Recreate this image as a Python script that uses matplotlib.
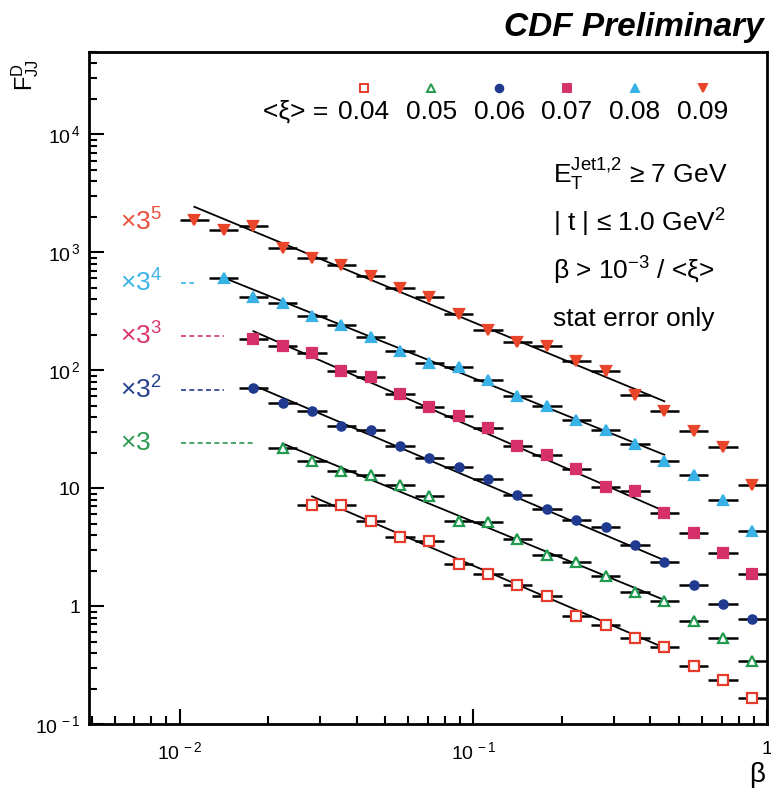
import matplotlib
matplotlib.use("Agg")
import matplotlib.pyplot as plt
import matplotlib.transforms as mtransforms
from matplotlib.ticker import FixedLocator, LogLocator, NullFormatter, FuncFormatter
import numpy as np

plt.rcParams['font.family'] = ['Liberation Sans', 'DejaVu Sans']
plt.rcParams['mathtext.fontset'] = 'custom'
plt.rcParams['mathtext.rm'] = 'Liberation Sans'
plt.rcParams['mathtext.it'] = 'Liberation Sans:italic'
plt.rcParams['mathtext.bf'] = 'Liberation Sans:bold'

# beta bin centres (bins 0.1 decade wide)
beta = [0.0112, 0.0141, 0.0178, 0.0224, 0.0282, 0.0355, 0.0447, 0.0562, 0.0708, 0.0891,
        0.112, 0.141, 0.178, 0.224, 0.282, 0.355, 0.447, 0.562, 0.708, 0.891]
half_bin = 0.05  # decades

xi = [0.04, 0.05, 0.06, 0.07, 0.08, 0.09]
scale_pow = [0, 1, 2, 3, 4, 5]

# F_JJ^D (unscaled), one list per <xi>, ending at the last beta bin
F_004 = [7.18, 7.18, 5.25, 3.84, 3.56, 2.27, 1.87, 1.51, 1.22, 0.82, 0.69, 0.535, 0.45,
         0.31, 0.236, 0.166]
F_005 = [7.27, 5.63, 4.63, 4.30, 3.53, 2.85, 1.75, 1.72, 1.23, 0.90, 0.787, 0.60, 0.437,
         0.367, 0.249, 0.178, 0.114]
F_006 = [7.82, 5.83, 4.99, 3.72, 3.44, 2.52, 1.99, 1.68, 1.32, 0.969, 0.738, 0.596, 0.519,
         0.366, 0.262, 0.168, 0.116, 0.086]
F_007 = [6.78, 5.93, 5.15, 3.63, 3.23, 2.32, 1.80, 1.51, 1.19, 0.841, 0.704, 0.537, 0.378,
         0.349, 0.227, 0.154, 0.104, 0.069]
F_008 = [7.43, 5.14, 4.57, 3.54, 2.98, 2.35, 1.79, 1.42, 1.31, 1.02, 0.743, 0.611, 0.465,
         0.383, 0.291, 0.209, 0.159, 0.098, 0.053]
F_009 = [7.68, 6.32, 6.83, 4.45, 3.66, 3.19, 2.58, 2.04, 1.71, 1.23, 0.897, 0.712, 0.658,
         0.490, 0.404, 0.253, 0.185, 0.125, 0.092, 0.0436]
F_all = [F_004, F_005, F_006, F_007, F_008, F_009]

# power-law fits: F = norm * (beta/0.1)^slope, drawn up to beta_fit_max
fit_norm = [2.20, 1.73, 1.33, 1.21, 1.06, 1.05]
fit_slope = [-1.07, -1.02, -1.06, -1.09, -1.00, -1.03]
beta_fit_max = 0.447

colors = ['#e63b2b', '#1f9a4e', '#1f3a8f', '#d6306a', '#38b2e6', '#e8452a']
markers = ['s', '^', 'o', 's', '^', 'v']
filled = [False, False, True, True, True, True]
scale_labels = [r'$\times3$', r'$\times3^2$', r'$\times3^3$', r'$\times3^4$', r'$\times3^5$']
label_colors = ['#2a9a50', '#243f8c', '#d8356c', '#3ab4e8', '#e8503a']

fig = plt.figure(figsize=(7.71, 7.90), dpi=100)
ax = fig.add_axes([0.1154, 0.0835, 0.8794, 0.8507])
ax.set_xscale('log')
ax.set_yscale('log')
ax.set_xlim(0.0049, 1.0)
ax.set_ylim(0.1, 5.0e4)

for i in range(len(xi)):
    f = np.array(F_all[i]) * 3 ** scale_pow[i]
    b = np.array(beta[len(beta) - len(f):])
    xlo = b - b * 10 ** (-half_bin)
    xhi = b * 10 ** half_bin - b
    ax.errorbar(b, f, xerr=[xlo, xhi], fmt='none', ecolor='black', elinewidth=1.8,
                capsize=0, zorder=2)
    ax.plot(b, f, linestyle='none', marker=markers[i], ms=6.5 if markers[i] != 'o' else 6,
            mec=colors[i], mfc=colors[i] if filled[i] else 'white', mew=1.6, zorder=4)
    bf = np.array([b[0], beta_fit_max])
    ax.plot(bf, fit_norm[i] * 3 ** scale_pow[i] * (bf / 0.1) ** fit_slope[i],
            color='black', lw=1.3, zorder=3)

# scale-factor labels with dashed guides
trans = mtransforms.blended_transform_factory(ax.transData, ax.transAxes)
label_y = [0.418, 0.497, 0.577, 0.656, 0.747]
for j in range(5):
    ax.text(0.046, label_y[j], scale_labels[j], transform=ax.transAxes, fontsize=19,
            color=label_colors[j], va='center', ha='left')
    n_pts = len(F_all[j + 1])
    first_b = beta[len(beta) - n_pts]
    x_end = first_b * 10 ** (-2 * half_bin)
    if x_end > 0.0101:
        ax.plot([0.0101, x_end], [label_y[j], label_y[j]], transform=trans,
                color=label_colors[j], lw=1.2, ls=(0, (3, 2)))

# legend row
for i in range(len(xi)):
    xpos = 0.405 + 0.1 * i
    ax.plot([xpos], [0.946], transform=ax.transAxes, marker=markers[i], ms=5.5,
            mec=colors[i], mfc=colors[i] if filled[i] else 'white', mew=1.4,
            linestyle='none', clip_on=False)
    ax.text(xpos, 0.911, '%.2f' % xi[i], transform=ax.transAxes, fontsize=19,
            ha='center', va='center')
ax.text(0.353, 0.911, '<ξ> =', transform=ax.transAxes, fontsize=19, ha='right', va='center')

# cut text
ax.text(0.685, 0.817, r'$\mathrm{E}_{\mathrm{T}}^{\mathrm{Jet1{,}2}}$ ≥ 7 GeV',
        transform=ax.transAxes, fontsize=19, ha='left', va='center')
ax.text(0.685, 0.745, r'| t | ≤ 1.0 GeV$^{2}$', transform=ax.transAxes, fontsize=19,
        ha='left', va='center')
ax.text(0.685, 0.674, r'β > 10$^{-3}$ / <ξ>', transform=ax.transAxes, fontsize=19,
        ha='left', va='center')
ax.text(0.685, 0.603, 'stat error only', transform=ax.transAxes, fontsize=19,
        ha='left', va='center')

# axes style
for s in ax.spines.values():
    s.set_linewidth(2.0)
ax.tick_params(which='both', direction='in', top=False, right=False, width=1.5)
ax.tick_params(which='major', length=11, labelsize=14)
ax.tick_params(which='minor', length=6)
ax.tick_params(axis='x', which='major', pad=12)
ax.tick_params(axis='y', which='major', pad=6)

ax.xaxis.set_major_locator(FixedLocator([0.01, 0.1, 1.0]))
ax.xaxis.set_minor_locator(LogLocator(base=10, subs=np.arange(2, 10)))
ax.xaxis.set_minor_formatter(NullFormatter())
ax.yaxis.set_major_locator(FixedLocator([0.1, 1, 10, 100, 1000, 10000]))
ax.yaxis.set_minor_locator(LogLocator(base=10, subs=np.arange(2, 10), numticks=20))
ax.yaxis.set_minor_formatter(NullFormatter())

def logfmt(v, pos):
    if abs(v - 1) < 1e-9:
        return '1'
    if abs(v - 10) < 1e-9:
        return '10'
    return r'$10^{\,%d}$' % int(round(np.log10(v)))

ax.xaxis.set_major_formatter(FuncFormatter(logfmt))
ax.yaxis.set_major_formatter(FuncFormatter(logfmt))

fig.text(0.99, 0.965, 'CDF Preliminary', fontsize=24, fontweight='bold', style='italic',
         ha='right', va='center')
fig.text(0.032, 0.905, r'$\mathrm{F}^{\mathrm{D}}_{\mathrm{JJ}}$', fontsize=17,
         rotation=90, ha='center', va='center')
fig.text(0.982, 0.019, 'β', fontsize=20, ha='center', va='center')

fig.savefig('out.png', dpi=100)
